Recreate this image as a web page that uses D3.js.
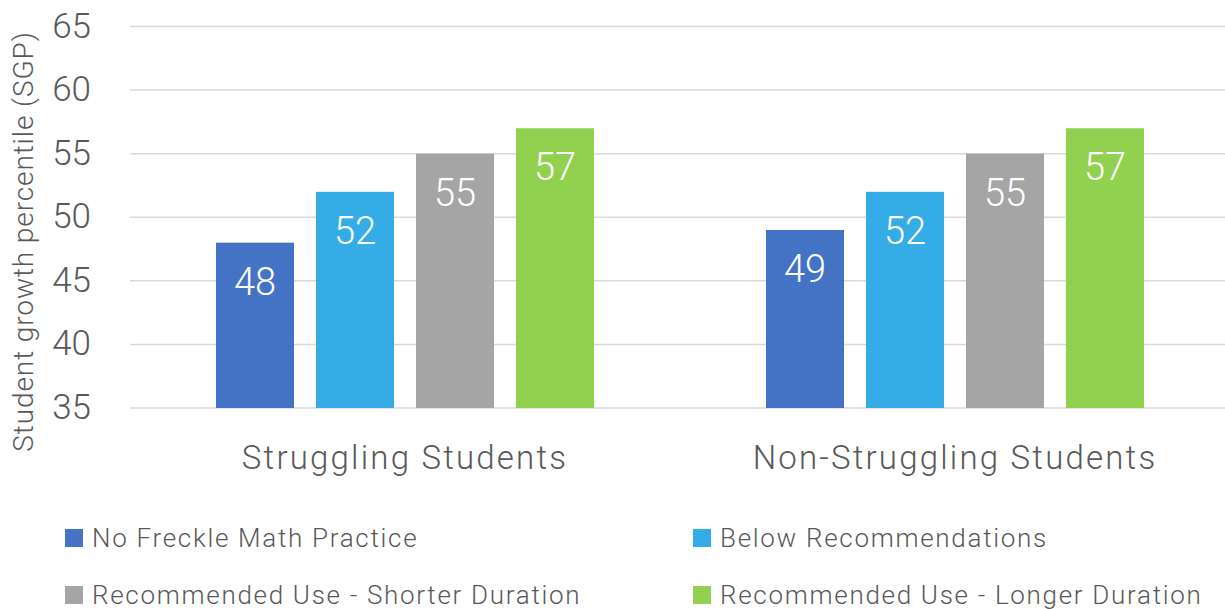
<!DOCTYPE html>
<html>
<head>
<meta charset="utf-8">
<script src="https://cdn.jsdelivr.net/npm/d3@7"></script>
<style>
  html, body { margin: 0; padding: 0; background: #fff; }
  svg { display: block; font-family: Roboto, "Open Sans", sans-serif; font-weight: 300; }
</style>
</head>
<body>
<svg id="chart" width="1225" height="609"></svg>
<script>
// Chart data
const categories = ["Struggling Students", "Non-Struggling Students"];
const seriesNames = [
  "No Freckle Math Practice",
  "Below Recommendations",
  "Recommended Use - Shorter Duration",
  "Recommended Use - Longer Duration"
];
const noPractice = [48, 49];
const belowRec = [52, 52];
const recShorter = [55, 55];
const recLonger = [57, 57];
const yTicks = [35, 40, 45, 50, 55, 60, 65];
const yTitle = "Student growth percentile (SGP)";

const seriesValues = [noPractice, belowRec, recShorter, recLonger];
const colors = ["#4472C4", "#35ACE6", "#A5A5A5", "#92D050"];

const svg = d3.select("#chart");
const plot = { left: 130, right: 1230, top: 26.5, bottom: 408 };

const y = d3.scaleLinear().domain([35, 65]).range([plot.bottom, plot.top]);
const x0 = d3.scaleBand().domain(categories).range([plot.left, plot.right]).paddingInner(0).paddingOuter(0);
// inner band: 4 bars of width ~78 with gaps of ~22 inside each category
const x1 = d3.scaleBand().domain(seriesNames).range([86 - 11, 550 - 86 + 11]).paddingInner(22 / 100).paddingOuter(11 / 100);

// gridlines
svg.append("g")
  .selectAll("line")
  .data(yTicks)
  .join("line")
  .attr("x1", plot.left).attr("x2", plot.right)
  .attr("y1", d => y(d)).attr("y2", d => y(d))
  .attr("stroke", "#D9D9D9").attr("stroke-width", 1.5);

// y axis tick labels
const yAxis = d3.axisLeft(y).tickValues(yTicks).tickSize(0).tickPadding(0);
const gy = svg.append("g").attr("transform", "translate(91,0)").call(yAxis);
gy.select(".domain").remove();
gy.selectAll("text")
  .attr("fill", "#595959")
  .attr("dy", "0.3em")
  .style("font-size", "35px")
  .style("font-family", "Roboto, sans-serif")
  .style("font-weight", 300);

// y axis title
svg.append("text")
  .attr("transform", `translate(33,${(35 + 448) / 2}) rotate(-90)`)
  .attr("text-anchor", "middle")
  .attr("fill", "#595959")
  .style("font-size", "28px")
  .style("letter-spacing", "0.9px")
  .text(yTitle);

// bars
const groups = svg.append("g")
  .selectAll("g")
  .data(categories)
  .join("g")
  .attr("transform", d => `translate(${x0(d)},0)`);

groups.each(function (cat, ci) {
  const g = d3.select(this);
  const data = seriesNames.map((s, si) => ({ s, si, v: seriesValues[si][ci] }));
  g.selectAll("rect")
    .data(data)
    .join("rect")
    .attr("x", d => x1(d.s))
    .attr("width", x1.bandwidth())
    .attr("y", d => y(d.v))
    .attr("height", d => y(35) - y(d.v))
    .attr("fill", d => colors[d.si]);
  g.selectAll("text.val")
    .data(data)
    .join("text")
    .attr("class", "val")
    .attr("x", d => x1(d.s) + x1.bandwidth() / 2)
    .attr("y", d => y(d.v) + 52)
    .attr("text-anchor", "middle")
    .attr("fill", "#fff")
    .style("font-size", "38px")
    .text(d => d.v);
});

// x axis category labels
const xAxis = d3.axisBottom(x0).tickSize(0).tickPadding(0);
const gx = svg.append("g").attr("transform", `translate(0,${plot.bottom})`).call(xAxis);
gx.select(".domain").remove();
gx.selectAll("text")
  .attr("y", 61.3)
  .attr("dy", 0)
  .attr("fill", "#595959")
  .style("font-size", "33px")
  .style("letter-spacing", "2.2px")
  .style("font-family", "Roboto, sans-serif")
  .style("font-weight", 300);

// legend
const legendPos = [
  { x: 65, y: 529 }, { x: 693, y: 529 },
  { x: 65, y: 586 }, { x: 693, y: 586 }
];
const legend = svg.append("g")
  .selectAll("g")
  .data(seriesNames)
  .join("g")
  .attr("transform", (d, i) => `translate(${legendPos[i].x},${legendPos[i].y})`);
legend.append("rect")
  .attr("x", 0).attr("y", 0).attr("width", 18).attr("height", 18)
  .attr("fill", (d, i) => colors[i]);
legend.append("text")
  .attr("x", 27).attr("y", 17.7)
  .attr("fill", "#595959")
  .style("font-size", "26px")
  .style("letter-spacing", "1.7px")
  .text(d => d);
</script>
</body>
</html>
